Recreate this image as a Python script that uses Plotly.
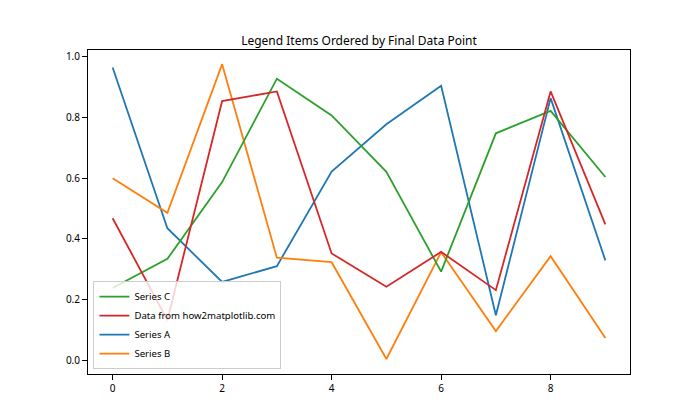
import plotly.graph_objects as go

x_vals = list(range(10))
series_a = [0.965, 0.435, 0.258, 0.310, 0.622, 0.778, 0.905, 0.148, 0.864, 0.329]
series_b = [0.600, 0.486, 0.976, 0.338, 0.323, 0.004, 0.356, 0.096, 0.343, 0.073]
series_c = [0.238, 0.334, 0.587, 0.928, 0.807, 0.621, 0.292, 0.748, 0.822, 0.604]
series_d = [0.468, 0.132, 0.854, 0.886, 0.352, 0.242, 0.357, 0.231, 0.886, 0.448]

names = ["Series A", "Series B", "Series C", "Data from how2matplotlib.com"]
colors = ["#1f77b4", "#ff7f0e", "#2ca02c", "#d62728"]
data = [series_a, series_b, series_c, series_d]

# legend ordered by final data point (descending)
order = sorted(range(4), key=lambda i: -data[i][-1])
ranks = {idx: r + 1 for r, idx in enumerate(order)}

FONT = "Noto Sans"
fig = go.Figure()
for i in range(4):
    fig.add_trace(go.Scatter(
        x=x_vals, y=data[i], mode="lines", name=names[i],
        line=dict(color=colors[i], width=1.8),
        legendrank=ranks[i],
    ))

fig.update_layout(
    width=700, height=420,
    margin=dict(l=87.5, r=70, t=50.4, b=46.2),
    paper_bgcolor="white", plot_bgcolor="white",
    font=dict(family=FONT, size=10, color="black"),
    title=dict(text="Legend Items Ordered by Final Data Point",
               x=0.5, xref="paper", xanchor="center",
               y=1 - 41 / 420, yref="container", yanchor="middle",
               font=dict(family=FONT, size=12, color="black")),
    showlegend=True,
    legend=dict(x=0.01, y=0.015, xanchor="left", yanchor="bottom",
                bgcolor="rgba(255,255,255,0.8)", bordercolor="#cccccc",
                borderwidth=1, font=dict(family=FONT, size=9.6, color="black"),
                tracegroupgap=0, itemwidth=30),
)
fig.update_xaxes(range=[-0.45, 9.45], tickvals=[0, 2, 4, 6, 8],
                 showgrid=False, zeroline=False, showline=True, mirror=True,
                 linecolor="black", linewidth=1, ticks="outside", ticklen=5,
                 tickcolor="black", tickfont=dict(size=10))
fig.update_yaxes(range=[-0.0455, 1.0226], tickvals=[0, 0.2, 0.4, 0.6, 0.8, 1.0],
                 tickformat=".1f",
                 showgrid=False, zeroline=False, showline=True, mirror=True,
                 linecolor="black", linewidth=1, ticks="outside", ticklen=5,
                 tickcolor="black", tickfont=dict(size=10))

fig.write_html("out.html")
